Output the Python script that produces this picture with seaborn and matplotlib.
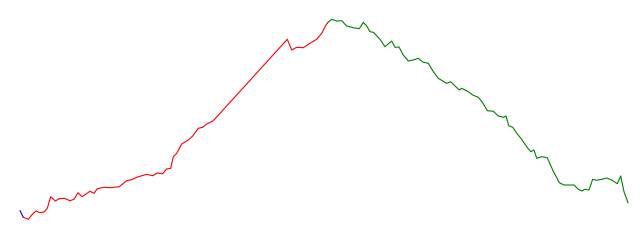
import matplotlib
matplotlib.use("Agg")
import matplotlib.pyplot as plt
import seaborn as sns
import pandas as pd

# day index and value for each segment of the series
blue_x = [20.0, 23.3]
blue_y = [29.3, 22.7]

red_x = [23.3, 28.3, 31.7, 36.0, 40.0, 44.0, 47.3, 50.7, 55.3, 59.3, 64.3, 70.0, 74.0,
         78.0, 82.0, 86.0, 90.0, 94.0, 97.3, 104.0, 110.0, 119.3, 126.7, 131.7, 136.7,
         146.7, 152.7, 157.3, 162.7, 166.7, 170.7, 173.3, 176.7, 181.7, 188.3, 192.7,
         198.3, 202.7, 206.7, 213.3, 287.3, 291.7, 296.7, 303.3, 310.0, 316.7, 321.7,
         326.0, 327.7]
red_y = [22.7, 20.7, 25.0, 29.0, 27.3, 28.0, 31.7, 43.3, 39.0, 41.3, 41.7, 39.3, 40.7,
         47.3, 43.3, 46.0, 48.7, 46.7, 51.3, 52.7, 52.3, 53.3, 59.3, 60.3, 62.7,
         65.7, 64.3, 67.0, 66.3, 71.0, 71.7, 83.3, 86.7, 96.0, 100.0, 104.0,
         111.7, 112.7, 116.0, 119.3, 200.7, 190.0, 192.7, 192.3, 196.7, 200.7, 206.7,
         215.0, 217.3]

green_x = [327.7, 331.7, 336.7, 341.7, 346.7, 353.3, 359.3, 363.3, 366.7, 370.0, 373.3,
           380.0, 385.0, 391.7, 395.0, 399.0, 403.3, 408.3, 413.3, 418.3, 423.3, 428.3,
           432.7, 438.3, 446.7, 450.7, 455.0, 459.3, 461.7, 468.3, 473.3, 478.3, 482.7,
           487.3, 493.3, 498.3, 503.3, 506.0, 508.7, 512.7, 517.3, 521.7, 526.7, 530.7,
           534.0, 536.7, 541.7, 547.3, 552.7, 559.3, 564.0, 574.0, 578.3, 581.7, 585.0,
           589.0, 592.7, 596.7, 601.7, 606.7, 611.7, 617.3, 620.7, 624.0, 628.0]
green_y = [217.3, 220.7, 219.0, 219.3, 214.0, 212.3, 211.3, 217.7, 214.0, 208.3, 207.7,
           200.7, 193.3, 199.0, 192.7, 193.0, 185.0, 179.0, 180.0, 181.7, 177.7, 176.7,
           169.3, 161.7, 156.7, 158.3, 154.0, 150.0, 151.7, 148.3, 144.7, 142.7, 137.3,
           129.3, 128.7, 124.0, 122.7, 124.0, 114.3, 112.7, 106.0, 100.7, 93.3, 88.3,
           90.0, 81.7, 83.3, 82.3, 70.0, 57.3, 55.0, 55.0, 50.7, 49.0, 50.7,
           50.0, 60.7, 59.7, 60.7, 62.0, 60.0, 56.3, 64.0, 48.3, 37.3]

fig = plt.figure(figsize=(6.4, 2.4), dpi=100)
ax = fig.add_axes([0, 0, 1, 1])

for xs, ys, col in [(blue_x, blue_y, "blue"), (red_x, red_y, "red"), (green_x, green_y, "green")]:
    df = pd.DataFrame({"x": xs, "y": ys})
    sns.lineplot(data=df, x="x", y="y", ax=ax, color=col, linewidth=0.8,
                 sort=False, estimator=None)

ax.set_xlim(0, 640)
ax.set_ylim(0, 240)
ax.axis("off")
fig.savefig("out.png", dpi=100)
